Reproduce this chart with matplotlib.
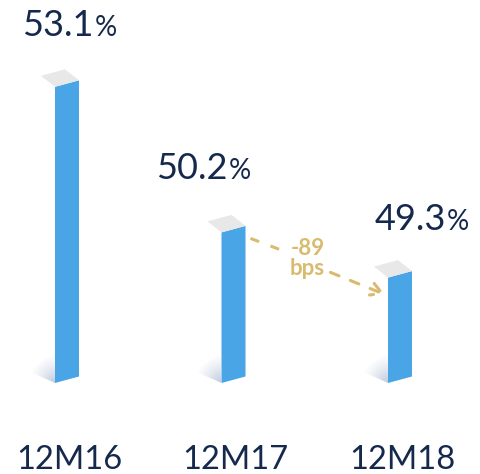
import numpy as np
import matplotlib.pyplot as plt
from matplotlib.patches import Polygon

# ---- data ----
periods = ['12M16', '12M17', '12M18']
ratio = [53.1, 50.2, 49.3]
change_txt = '-89\nbps'

BLUE = '#4aa5e6'
TOP = '#e8e8e8'
NAVY = '#15294d'
GOLD = '#d9bb6e'

BASE = 47.2      # bars start here (truncated axis)
XS = 166.5       # pixels per category step
YS = 50.2        # pixels per percentage point

def dx(p):
    return p / XS

def dy(p):
    return p / YS

fig = plt.figure(figsize=(4.81, 4.74), dpi=100)
ax = fig.add_axes([0, 0, 1, 1])
ax.set_xlim(-67 / XS, (481 - 67) / XS)
ax.set_ylim(BASE - dy(91), BASE + dy(383))
ax.axis('off')

# gradient used for the floor shadow
g = np.linspace(0, 1, 60)
gx, gy = np.meshgrid(g, g)

for i, v in enumerate(ratio):
    xl = i - dx(12)
    xr = i + dx(12)
    rise = dy(6.5)
    # shadow on the floor, left of the bar
    shadow = [(xl, BASE), (xl, BASE + dy(30)), (xl - dx(27), BASE + dy(12))]
    sp = Polygon(shadow, closed=True, facecolor='none', edgecolor='none')
    ax.add_patch(sp)
    d = np.sqrt((1 - gx) ** 2 + gy ** 2)
    a = np.clip(1 - d / 1.0, 0, 1) ** 1.3 * 0.55
    img = np.zeros((60, 60, 4))
    img[..., 0] = 0.55
    img[..., 1] = 0.62
    img[..., 2] = 0.76
    img[..., 3] = a
    im = ax.imshow(img, extent=(xl - dx(27), xl, BASE, BASE + dy(30)),
                   origin='lower', aspect='auto', zorder=1)
    im.set_clip_path(sp)
    # front face
    front = [(xl, BASE), (xr, BASE + rise), (xr, v + rise), (xl, v)]
    ax.add_patch(Polygon(front, closed=True, facecolor=BLUE, edgecolor='none', zorder=2))
    # top face
    top = [(xl, v), (xr, v + rise), (xr - dx(14), v + rise + dy(11)), (xl - dx(14), v + dy(11))]
    ax.add_patch(Polygon(top, closed=True, facecolor=TOP, edgecolor='none', zorder=2))

# value labels
lab_dx = [27, -6, 46]
lab_dy = [51, 53, 48]
for i, v in enumerate(ratio):
    xa = i + dx(lab_dx[i])
    ya = v + dy(lab_dy[i])
    ax.text(xa, ya, f'{v:.1f}', ha='right', va='baseline', fontsize=26,
            color=NAVY, family='Lato', weight='normal')
    ax.text(xa + dx(1), ya, '%', ha='left', va='baseline', fontsize=20,
            color=NAVY, family='Lato', weight='normal')

# category labels
for i, p in enumerate(periods):
    ax.text(i + dx(2), BASE - dy(86), p, ha='center', va='baseline', fontsize=23.5,
            color=NAVY, family='Lato', weight='normal')

# change annotation between last two bars
x1 = 1 + dx(17)
y1 = ratio[1] + dy(-6)
x2 = 2 - dx(15)
y2 = ratio[2] + dy(-17)
tx = 1 + dx(74)
ty = ratio[1] + dy(-26)
ax.plot([x1, 1 + dx(46)], [y1, y1 - dy(11)], color=GOLD, lw=2.2, ls=(0, (3, 4)), zorder=3)
ax.annotate('', xy=(x2, y2), xytext=(1 + dx(97), ratio[1] + dy(-40)),
            arrowprops=dict(arrowstyle='->,head_length=0.8,head_width=0.45', color=GOLD, lw=2.2,
                            ls=(0, (3, 4)), shrinkA=0, shrinkB=0), zorder=3)
ax.text(tx, ty, change_txt, ha='center', va='center', fontsize=16, color=GOLD,
        family='Lato', weight='bold', linespacing=0.9)

fig.savefig('out.png', dpi=100)
